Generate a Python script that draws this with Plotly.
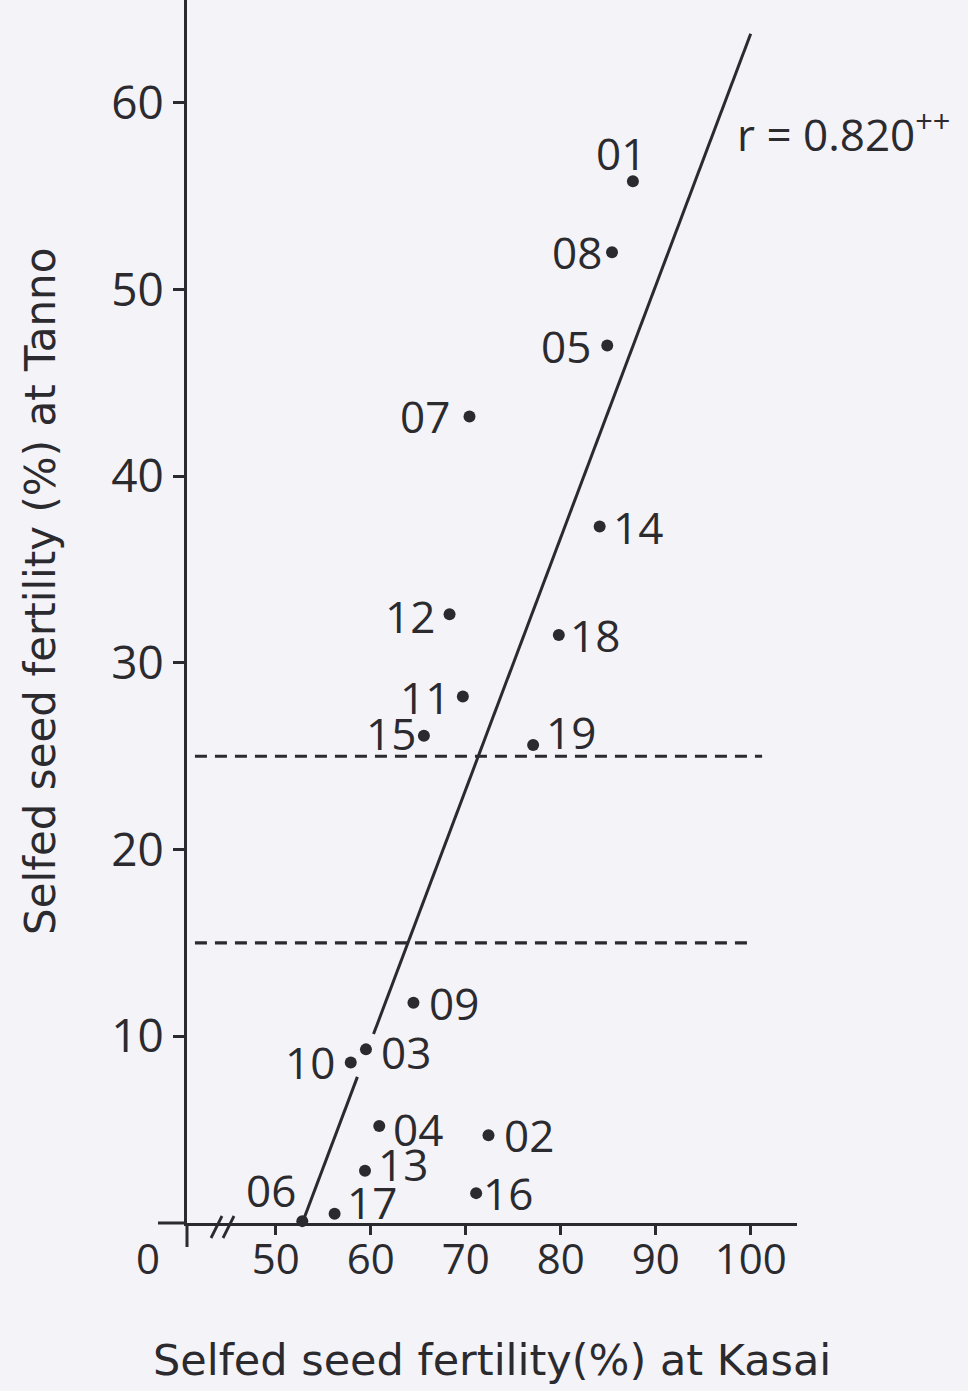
import plotly.graph_objects as go

# ---------------- data ----------------
lines = ["01", "02", "03", "04", "05", "06", "07", "08", "09", "10",
         "11", "12", "13", "14", "15", "16", "17", "18", "19"]
kasai = [87.6, 72.4, 59.5, 60.9, 84.9, 52.8, 70.4, 85.4, 64.5, 57.9,
         69.7, 68.3, 59.4, 84.1, 65.6, 71.1, 56.2, 79.8, 77.1]
tanno = [55.8, 4.7, 9.3, 5.2, 47.0, 0.1, 43.2, 52.0, 11.8, 8.6,
         28.2, 32.6, 2.8, 37.3, 26.1, 1.6, 0.5, 31.5, 25.6]

# regression line (r = 0.820)
reg_slope = 1.3496
reg_x0 = 52.8          # x where line meets y = 0
reg_x_end = 100.0
reg_gap = [58.6, 60.3]  # line interrupted behind labels 10 / 03
r_text = "r = 0.820<sup>++</sup>"

# horizontal reference levels (dashed)
levels = [25, 15]
level_x_start = 41.5
level_x_end = [101.2, 100.3]

x_ticks = [50, 60, 70, 80, 90, 100]
y_ticks = [10, 20, 30, 40, 50, 60]
x_title = "Selfed seed fertility(%) at Kasai"
y_title = "Selfed seed fertility (%) at Tanno"

# ---------------- styling ----------------
W, H = 968, 1391
L, R, T, B = 187, 171, 0, 168
PW, PH = W - L - R, H - T - B
INK = "#2b2b2f"
BG = "#f4f3f8"
NUM_FONT = "Open Sans"
TITLE_FONT = "DejaVu Sans"

# pixel -> data mapping of the original scale (50 at px 275.7, 9.5 px per unit)
x_lo = 50 - (275.7 - L) / 9.5
x_hi = x_lo + PW / 9.5
y_lo, y_hi = 0, PH / 18.67


def px(xp):
    return (xp - L) / PW


def py(yp):
    return (H - B - yp) / PH


# label placement: (xanchor, xshift, yshift)
label_pos = {
    "01": ("center", -12, 28), "02": ("left", 13, 0), "03": ("left", 13, -3),
    "04": ("left", 12, -3), "05": ("right", -14, 0), "06": ("right", -4, 31),
    "07": ("right", -18, 0), "08": ("right", -8, 0), "09": ("left", 14, 0),
    "10": ("right", -14, 0), "11": ("right", -11, 0), "12": ("right", -13, -2),
    "13": ("left", 11, 7), "14": ("left", 11, 0), "15": ("right", -6, 3),
    "16": ("left", 5, 0), "17": ("left", 10, 12), "18": ("left", 9, 0),
    "19": ("left", 11, 13),
}

fig = go.Figure()

# regression line
seg_a = [reg_x0, reg_gap[0]]
seg_b = [reg_gap[1], reg_x_end]
rx = seg_a + [None] + seg_b
ry = [None if v is None else reg_slope * (v - reg_x0) for v in rx]
fig.add_trace(go.Scatter(x=rx, y=ry, mode="lines",
                         line=dict(color=INK, width=3), hoverinfo="skip",
                         showlegend=False))

# dashed levels
for lv, xe in zip(levels, level_x_end):
    fig.add_trace(go.Scatter(x=[level_x_start, xe], y=[lv, lv], mode="lines",
                             line=dict(color=INK, width=3.2, dash="12px,8px"),
                             hoverinfo="skip", showlegend=False))

# points
fig.add_trace(go.Scatter(x=kasai, y=tanno, mode="markers",
                         marker=dict(color=INK, size=12),
                         showlegend=False, cliponaxis=False))

annotations = []
for name, xv, yv in zip(lines, kasai, tanno):
    xa, xs, ys = label_pos[name]
    annotations.append(dict(x=xv, y=yv, xref="x", yref="y", text=name,
                            showarrow=False, xanchor=xa, yanchor="middle",
                            xshift=xs, yshift=ys,
                            font=dict(family=NUM_FONT, size=44, color=INK)))

# r annotation
annotations.append(dict(x=px(735), y=py(132), xref="paper", yref="paper",
                        text=r_text, showarrow=False, xanchor="left",
                        yanchor="middle",
                        font=dict(family=NUM_FONT, size=44, color=INK)))
# origin zero
annotations.append(dict(x=px(148), y=py(1257), xref="paper", yref="paper",
                        text="0", showarrow=False, xanchor="center",
                        yanchor="middle",
                        font=dict(family=NUM_FONT, size=42, color=INK)))
# axis titles
annotations.append(dict(x=px(492), y=py(1360), xref="paper", yref="paper",
                        text=x_title, showarrow=False, xanchor="center",
                        yanchor="middle",
                        font=dict(family=TITLE_FONT, size=43, color=INK)))
annotations.append(dict(x=px(40), y=py(592), xref="paper", yref="paper",
                        text=y_title, showarrow=False, xanchor="center",
                        yanchor="middle", textangle=-90,
                        font=dict(family=TITLE_FONT, size=42, color=INK)))

shapes = [
    # x axis extension to the left of the y axis
    dict(type="line", xref="paper", yref="paper", x0=px(158), x1=0,
         y0=0, y1=0, line=dict(color=INK, width=3)),
    # y axis extension below x axis
    dict(type="line", xref="paper", yref="paper", x0=0, x1=0,
         y0=py(1247), y1=0, line=dict(color=INK, width=3)),
    # axis break marks //
    dict(type="line", xref="paper", yref="paper", x0=px(211), x1=px(222),
         y0=py(1238), y1=py(1216), line=dict(color=INK, width=2.8)),
    dict(type="line", xref="paper", yref="paper", x0=px(223), x1=px(234),
         y0=py(1238), y1=py(1216), line=dict(color=INK, width=2.8)),
]

fig.update_layout(
    width=W, height=H,
    margin=dict(l=L, r=R, t=T, b=B, pad=0),
    paper_bgcolor=BG, plot_bgcolor=BG,
    showlegend=False,
    annotations=annotations,
    shapes=shapes,
    xaxis=dict(range=[x_lo, x_hi], tickvals=x_ticks, ticks="outside",
               ticklen=9, tickwidth=3, tickcolor=INK, showline=True,
               linewidth=3, linecolor=INK, showgrid=False, zeroline=False,
               ticklabelstandoff=-11,
               tickfont=dict(family=NUM_FONT, size=42, color=INK),
               fixedrange=True),
    yaxis=dict(range=[y_lo, y_hi], tickvals=y_ticks, ticks="outside",
               ticklen=11, tickwidth=3, tickcolor=INK, showline=True,
               linewidth=3, linecolor=INK, showgrid=False, zeroline=False,
               tickfont=dict(family=NUM_FONT, size=46, color=INK),
               fixedrange=True),
)

fig.write_html(
    "out.html",
    config={"displayModeBar": False},
    post_script="document.body.style.margin='0';"
                "document.body.style.background='" + BG + "';",
)
